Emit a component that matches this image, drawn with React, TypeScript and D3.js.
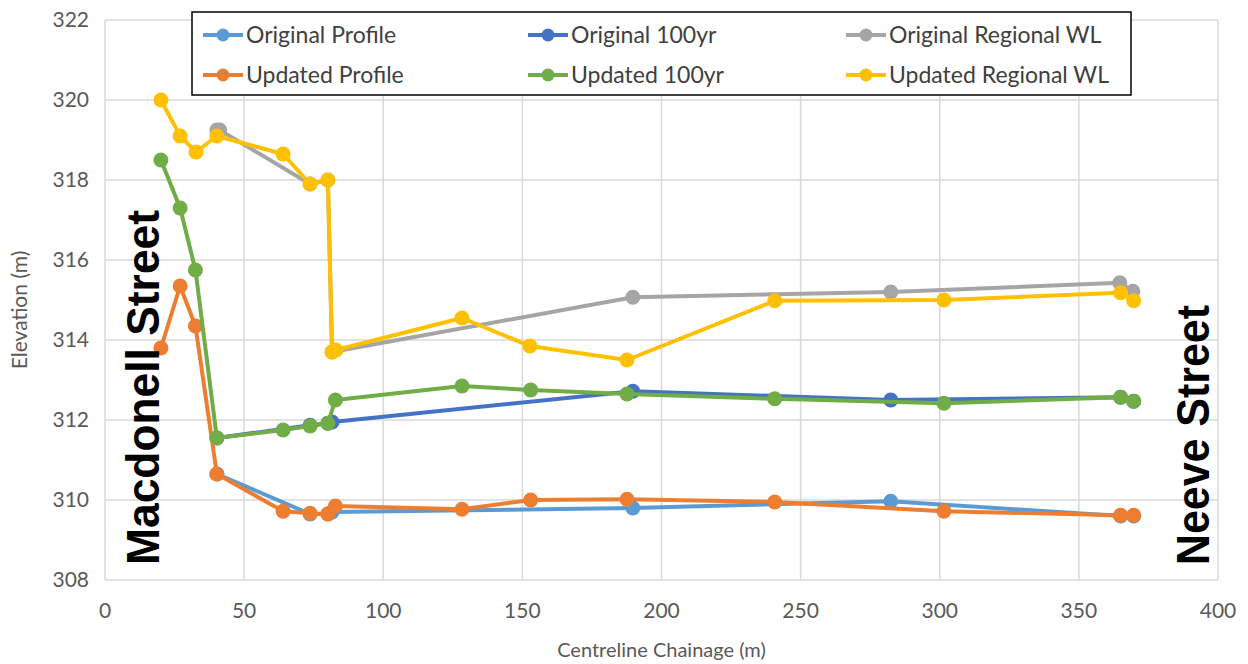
import React from 'react';
import * as d3 from 'd3';

// chainage (m) / elevation (m)
const origProfileX = [40.2, 73.7, 80.1, 81.6, 189.7, 282.4, 365, 369.7];
const origProfileY = [310.65, 309.65, 309.65, 309.7, 309.8, 309.97, 309.6, 309.6];

const orig100X = [40.2, 73.7, 80.1, 81.6, 189.7, 282.4, 365, 369.7];
const orig100Y = [311.55, 311.87, 311.92, 311.95, 312.72, 312.5, 312.57, 312.47];

const origRegX = [40.2, 41.2, 73.7, 80.1, 81.6, 189.7, 282.4, 364.7, 369.4];
const origRegY = [319.25, 319.25, 317.9, 318.0, 313.7, 315.07, 315.2, 315.43, 315.22];

const updX = [20.1, 27, 32.5, 40.2, 64, 73.7, 80.1, 82.8, 128.3, 153, 187.6, 240.7, 301.5, 365, 369.7];
const updProfileY = [313.8, 315.35, 314.35, 310.65, 309.72, 309.67, 309.65, 309.85, 309.77, 310.0, 310.02, 309.95, 309.72, 309.62, 309.62];
const upd100Y = [318.5, 317.3, 315.75, 311.55, 311.75, 311.85, 311.92, 312.5, 312.85, 312.75, 312.65, 312.53, 312.42, 312.57, 312.47];

const updRegX = [20.1, 27, 32.7, 40.2, 64, 73.7, 80.1, 81.6, 83, 128.3, 152.7, 187.6, 240.7, 301.5, 365, 369.7];
const updRegY = [320.0, 319.1, 318.7, 319.1, 318.65, 317.9, 318.0, 313.7, 313.75, 314.55, 313.85, 313.5, 314.98, 315.0, 315.18, 314.98];

const xTicks = [0, 50, 100, 150, 200, 250, 300, 350, 400];
const yTicks = [308, 310, 312, 314, 316, 318, 320, 322];

const seriesNames = ['Original Profile', 'Original 100yr', 'Original Regional WL', 'Updated Profile', 'Updated 100yr', 'Updated Regional WL'];
const seriesColors = ['#5B9BD5', '#4472C4', '#A5A5A5', '#ED7D31', '#70AD47', '#FFC000'];

const series = [
  { xs: origProfileX, ys: origProfileY },
  { xs: orig100X, ys: orig100Y },
  { xs: origRegX, ys: origRegY },
  { xs: updX, ys: updProfileY },
  { xs: updX, ys: upd100Y },
  { xs: updRegX, ys: updRegY },
];

const font = 'Lato, "Open Sans", sans-serif';

export default function App() {
  const width = 1248;
  const height = 664;
  const left = 105, right = 1218, top = 20, bottom = 580;

  const x = d3.scaleLinear().domain([0, 400]).range([left, right]);
  const y = d3.scaleLinear().domain([308, 322]).range([bottom, top]);

  const line = d3.line<[number, number]>()
    .x((d) => x(d[0]))
    .y((d) => y(d[1]));

  const legendCols = [203, 528, 846];
  const legendRows = [35, 75];

  return (
    <svg width={width} height={height} style={{ position: 'absolute', left: 0, top: 0, background: '#fff' }}>
      {/* grid */}
      {xTicks.map((t) => (
        <line key={'gx' + t} x1={x(t)} x2={x(t)} y1={top} y2={bottom} stroke="#d9d9d9" strokeWidth={1.5} />
      ))}
      {yTicks.map((t) => (
        <line key={'gy' + t} x1={left} x2={right} y1={y(t)} y2={y(t)} stroke="#d9d9d9" strokeWidth={1.5} />
      ))}

      {/* tick labels */}
      {xTicks.map((t) => (
        <text key={'tx' + t} x={x(t)} y={618} textAnchor="middle" fontFamily={font} fontSize={21} fill="#595959">{t}</text>
      ))}
      {yTicks.map((t) => (
        <text key={'ty' + t} x={89} y={y(t) + 7} textAnchor="end" fontFamily={font} fontSize={21} fill="#595959">{t}</text>
      ))}

      <text x={(left + right) / 2} y={657} textAnchor="middle" fontFamily={font} fontSize={20} fill="#595959">Centreline Chainage (m)</text>
      <text transform={`translate(27, ${(top + bottom) / 2 + 10}) rotate(-90)`} textAnchor="middle" fontFamily={font} fontSize={21} fill="#595959">Elevation (m)</text>

      {/* series */}
      {series.map((s, i) => {
        const pts = s.xs.map((v, j) => [v, s.ys[j]] as [number, number]);
        return (
          <g key={'s' + i}>
            <path d={line(pts) || ''} fill="none" stroke={seriesColors[i]} strokeWidth={4} strokeLinejoin="round" />
            {pts.map((p, j) => (
              <circle key={j} cx={x(p[0])} cy={y(p[1])} r={7.5} fill={seriesColors[i]} />
            ))}
          </g>
        );
      })}

      {/* street labels */}
      <text transform="translate(159, 565) rotate(-90)" fontFamily='"Liberation Sans", Arial, sans-serif' fontWeight="bold" fontSize={46} textLength={355} lengthAdjust="spacingAndGlyphs" fill="#000">Macdonell Street</text>
      <text transform="translate(1209, 565) rotate(-90)" fontFamily='"Liberation Sans", Arial, sans-serif' fontWeight="bold" fontSize={46} textLength={260} lengthAdjust="spacingAndGlyphs" fill="#000">Neeve Street</text>

      {/* legend */}
      <rect x={192} y={12} width={939} height={83} fill="#fff" stroke="#000" strokeWidth={1.5} />
      {seriesNames.map((name, i) => {
        const lx = legendCols[i % 3];
        const ly = legendRows[Math.floor(i / 3)];
        return (
          <g key={'l' + i}>
            <line x1={lx} x2={lx + 40} y1={ly} y2={ly} stroke={seriesColors[i]} strokeWidth={4} />
            <circle cx={lx + 20} cy={ly} r={6.5} fill={seriesColors[i]} />
            <text x={lx + 43} y={ly + 8} fontFamily={font} fontSize={23} fill="#404040">{name}</text>
          </g>
        );
      })}
    </svg>
  );
}
